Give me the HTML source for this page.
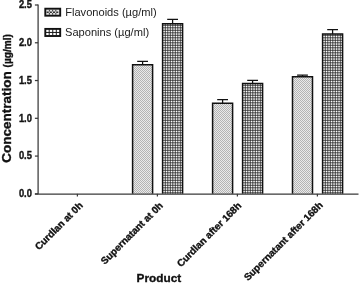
<!DOCTYPE html>
<html><head><meta charset="utf-8"><title>Chart</title>
<style>
html,body{margin:0;padding:0;background:#fff;}
svg{display:block;font-family:"Liberation Sans",Arial,sans-serif;}
.b{font-weight:bold;stroke:#111;stroke-width:0.35px;}
</style></head><body>
<svg width="359" height="283" viewBox="0 0 359 283">
<defs>
<pattern id="dots" width="2" height="2" patternUnits="userSpaceOnUse">
<rect width="2" height="2" fill="#eaeaea"/>
<rect x="0" y="0" width="1" height="1" fill="#b4b4b4"/>
<rect x="1" y="1" width="1" height="1" fill="#b4b4b4"/>
</pattern>
</defs>
<rect width="359" height="283" fill="#fff"/>

<rect x="132.60" y="64.65" width="20.00" height="129.20" fill="url(#dots)"/>
<path d="M132.60 193.85V64.65H152.60V193.85" stroke="#111" stroke-width="1.5" fill="none"/>
<path d="M142.60 64.65V61.35M137.20 61.35H148.00" stroke="#111" stroke-width="1.25" fill="none"/>
<path d="M165.30 23.65V193.85M167.80 23.65V193.85M170.30 23.65V193.85M172.80 23.65V193.85M175.30 23.65V193.85M177.80 23.65V193.85M180.30 23.65V193.85M162.60 25.30H182.60M162.60 27.80H182.60M162.60 30.30H182.60M162.60 32.80H182.60M162.60 35.30H182.60M162.60 37.80H182.60M162.60 40.30H182.60M162.60 42.80H182.60M162.60 45.30H182.60M162.60 47.80H182.60M162.60 50.30H182.60M162.60 52.80H182.60M162.60 55.30H182.60M162.60 57.80H182.60M162.60 60.30H182.60M162.60 62.80H182.60M162.60 65.30H182.60M162.60 67.80H182.60M162.60 70.30H182.60M162.60 72.80H182.60M162.60 75.30H182.60M162.60 77.80H182.60M162.60 80.30H182.60M162.60 82.80H182.60M162.60 85.30H182.60M162.60 87.80H182.60M162.60 90.30H182.60M162.60 92.80H182.60M162.60 95.30H182.60M162.60 97.80H182.60M162.60 100.30H182.60M162.60 102.80H182.60M162.60 105.30H182.60M162.60 107.80H182.60M162.60 110.30H182.60M162.60 112.80H182.60M162.60 115.30H182.60M162.60 117.80H182.60M162.60 120.30H182.60M162.60 122.80H182.60M162.60 125.30H182.60M162.60 127.80H182.60M162.60 130.30H182.60M162.60 132.80H182.60M162.60 135.30H182.60M162.60 137.80H182.60M162.60 140.30H182.60M162.60 142.80H182.60M162.60 145.30H182.60M162.60 147.80H182.60M162.60 150.30H182.60M162.60 152.80H182.60M162.60 155.30H182.60M162.60 157.80H182.60M162.60 160.30H182.60M162.60 162.80H182.60M162.60 165.30H182.60M162.60 167.80H182.60M162.60 170.30H182.60M162.60 172.80H182.60M162.60 175.30H182.60M162.60 177.80H182.60M162.60 180.30H182.60M162.60 182.80H182.60M162.60 185.30H182.60M162.60 187.80H182.60M162.60 190.30H182.60M162.60 192.80H182.60" stroke="#222" stroke-width="0.8" fill="none"/>
<path d="M162.60 193.85V23.65H182.60V193.85" stroke="#111" stroke-width="1.5" fill="none"/>
<path d="M172.60 23.65V19.30M167.20 19.30H178.00" stroke="#111" stroke-width="1.25" fill="none"/>
<rect x="212.60" y="103.20" width="20.00" height="90.65" fill="url(#dots)"/>
<path d="M212.60 193.85V103.20H232.60V193.85" stroke="#111" stroke-width="1.5" fill="none"/>
<path d="M222.60 103.20V99.60M217.20 99.60H228.00" stroke="#111" stroke-width="1.25" fill="none"/>
<path d="M245.30 83.50V193.85M247.80 83.50V193.85M250.30 83.50V193.85M252.80 83.50V193.85M255.30 83.50V193.85M257.80 83.50V193.85M260.30 83.50V193.85M242.60 85.30H262.60M242.60 87.80H262.60M242.60 90.30H262.60M242.60 92.80H262.60M242.60 95.30H262.60M242.60 97.80H262.60M242.60 100.30H262.60M242.60 102.80H262.60M242.60 105.30H262.60M242.60 107.80H262.60M242.60 110.30H262.60M242.60 112.80H262.60M242.60 115.30H262.60M242.60 117.80H262.60M242.60 120.30H262.60M242.60 122.80H262.60M242.60 125.30H262.60M242.60 127.80H262.60M242.60 130.30H262.60M242.60 132.80H262.60M242.60 135.30H262.60M242.60 137.80H262.60M242.60 140.30H262.60M242.60 142.80H262.60M242.60 145.30H262.60M242.60 147.80H262.60M242.60 150.30H262.60M242.60 152.80H262.60M242.60 155.30H262.60M242.60 157.80H262.60M242.60 160.30H262.60M242.60 162.80H262.60M242.60 165.30H262.60M242.60 167.80H262.60M242.60 170.30H262.60M242.60 172.80H262.60M242.60 175.30H262.60M242.60 177.80H262.60M242.60 180.30H262.60M242.60 182.80H262.60M242.60 185.30H262.60M242.60 187.80H262.60M242.60 190.30H262.60M242.60 192.80H262.60" stroke="#222" stroke-width="0.8" fill="none"/>
<path d="M242.60 193.85V83.50H262.60V193.85" stroke="#111" stroke-width="1.5" fill="none"/>
<path d="M252.60 83.50V80.40M247.20 80.40H258.00" stroke="#111" stroke-width="1.25" fill="none"/>
<rect x="292.50" y="76.80" width="20.00" height="117.05" fill="url(#dots)"/>
<path d="M292.50 193.85V76.80H312.50V193.85" stroke="#111" stroke-width="1.5" fill="none"/>
<path d="M302.50 76.80V75.00M297.10 75.00H307.90" stroke="#111" stroke-width="1.25" fill="none"/>
<path d="M325.30 34.10V193.85M327.80 34.10V193.85M330.30 34.10V193.85M332.80 34.10V193.85M335.30 34.10V193.85M337.80 34.10V193.85M340.30 34.10V193.85M322.60 35.30H342.60M322.60 37.80H342.60M322.60 40.30H342.60M322.60 42.80H342.60M322.60 45.30H342.60M322.60 47.80H342.60M322.60 50.30H342.60M322.60 52.80H342.60M322.60 55.30H342.60M322.60 57.80H342.60M322.60 60.30H342.60M322.60 62.80H342.60M322.60 65.30H342.60M322.60 67.80H342.60M322.60 70.30H342.60M322.60 72.80H342.60M322.60 75.30H342.60M322.60 77.80H342.60M322.60 80.30H342.60M322.60 82.80H342.60M322.60 85.30H342.60M322.60 87.80H342.60M322.60 90.30H342.60M322.60 92.80H342.60M322.60 95.30H342.60M322.60 97.80H342.60M322.60 100.30H342.60M322.60 102.80H342.60M322.60 105.30H342.60M322.60 107.80H342.60M322.60 110.30H342.60M322.60 112.80H342.60M322.60 115.30H342.60M322.60 117.80H342.60M322.60 120.30H342.60M322.60 122.80H342.60M322.60 125.30H342.60M322.60 127.80H342.60M322.60 130.30H342.60M322.60 132.80H342.60M322.60 135.30H342.60M322.60 137.80H342.60M322.60 140.30H342.60M322.60 142.80H342.60M322.60 145.30H342.60M322.60 147.80H342.60M322.60 150.30H342.60M322.60 152.80H342.60M322.60 155.30H342.60M322.60 157.80H342.60M322.60 160.30H342.60M322.60 162.80H342.60M322.60 165.30H342.60M322.60 167.80H342.60M322.60 170.30H342.60M322.60 172.80H342.60M322.60 175.30H342.60M322.60 177.80H342.60M322.60 180.30H342.60M322.60 182.80H342.60M322.60 185.30H342.60M322.60 187.80H342.60M322.60 190.30H342.60M322.60 192.80H342.60" stroke="#222" stroke-width="0.8" fill="none"/>
<path d="M322.60 193.85V34.10H342.60V193.85" stroke="#111" stroke-width="1.5" fill="none"/>
<path d="M332.60 34.10V29.60M327.20 29.60H338.00" stroke="#111" stroke-width="1.25" fill="none"/>
<path d="M38.1 4.45V194.04999999999998M34.9 194.04999999999998H358.5" stroke="#3a3a3a" stroke-width="1.25" fill="none"/>
<path d="M34.9 193.85H38.1" stroke="#3a3a3a" stroke-width="1.25"/>
<text class="b" font-size="10.3" text-anchor="end" fill="#111" transform="translate(31.9 197.0) scale(0.91 1)">0.0</text>
<path d="M34.9 156.08H38.1" stroke="#3a3a3a" stroke-width="1.25"/>
<text class="b" font-size="10.3" text-anchor="end" fill="#111" transform="translate(31.9 159.3) scale(0.91 1)">0.5</text>
<path d="M34.9 118.31H38.1" stroke="#3a3a3a" stroke-width="1.25"/>
<text class="b" font-size="10.3" text-anchor="end" fill="#111" transform="translate(31.9 121.5) scale(0.91 1)">1.0</text>
<path d="M34.9 80.54H38.1" stroke="#3a3a3a" stroke-width="1.25"/>
<text class="b" font-size="10.3" text-anchor="end" fill="#111" transform="translate(31.9 83.7) scale(0.91 1)">1.5</text>
<path d="M34.9 42.77H38.1" stroke="#3a3a3a" stroke-width="1.25"/>
<text class="b" font-size="10.3" text-anchor="end" fill="#111" transform="translate(31.9 46.0) scale(0.91 1)">2.0</text>
<path d="M34.9 5.00H38.1" stroke="#3a3a3a" stroke-width="1.25"/>
<text class="b" font-size="10.3" text-anchor="end" fill="#111" transform="translate(31.9 8.2) scale(0.91 1)">2.5</text>
<path d="M77.4 193.85V196.5" stroke="#3a3a3a" stroke-width="1.25"/>
<text class="b" font-size="9.85" text-anchor="end" fill="#111" transform="translate(83.45 206.10) rotate(-45)">Curdlan at 0h</text>
<path d="M157.4 193.85V196.5" stroke="#3a3a3a" stroke-width="1.25"/>
<text class="b" font-size="9.85" text-anchor="end" fill="#111" transform="translate(163.60 206.25) rotate(-45)">Supernatant at 0h</text>
<path d="M237.4 193.85V196.5" stroke="#3a3a3a" stroke-width="1.25"/>
<text class="b" font-size="9.85" text-anchor="end" fill="#111" transform="translate(242.00 206.35) rotate(-45)">Curdlan after 168h</text>
<path d="M317.4 193.85V196.5" stroke="#3a3a3a" stroke-width="1.25"/>
<text class="b" font-size="9.85" text-anchor="end" fill="#111" transform="translate(323.40 205.85) rotate(-45)">Supernatant after 168h</text>
<text class="b" font-size="11.8" fill="#111" x="136.6" y="281.6">Product</text>
<text class="b" font-size="13.5" fill="#111" transform="translate(11.1 162.7) rotate(-90)">Concentration <tspan font-size="10.1">(µg/ml)</tspan></text>
<rect x="45.3" y="8.7" width="14.9" height="7.0" fill="#e2e2e2" stroke="#111" stroke-width="1.9"/>
<path d="M46.6 12.25H59" stroke="#333" stroke-width="1.5" stroke-dasharray="2.1 1.1" fill="none"/>
<path d="M49.4 9.6V11.4M52.6 9.6V11.4M55.8 9.6V11.4M49.4 13.1V14.8M52.6 13.1V14.8M55.8 13.1V14.8" stroke="#444" stroke-width="1.1" fill="none"/>
<rect x="45.3" y="28.9" width="14.9" height="7.1" fill="#fff" stroke="#111" stroke-width="1.9"/>
<path d="M45.3 32.45H60.2M49.2 28.9V36M52.75 28.9V36M56.3 28.9V36" stroke="#1a1a1a" stroke-width="1" fill="none"/>
<text font-size="11.1" fill="#222" x="65.2" y="15.9">Flavonoids (µg/ml)</text>
<text font-size="11.1" fill="#222" x="65" y="36.1">Saponins (µg/ml)</text>
</svg></body></html>
